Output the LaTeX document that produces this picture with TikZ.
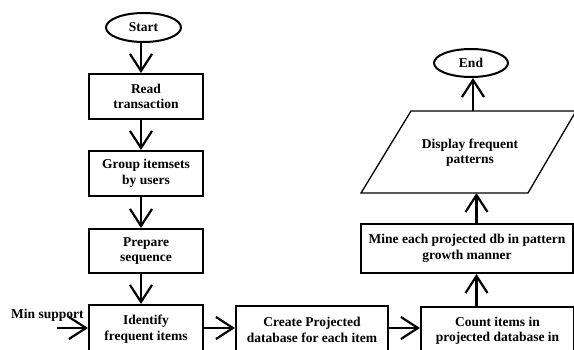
\documentclass[tikz,border=0pt]{standalone}
\usepackage{fontspec}
\setmainfont{Liberation Serif}
\usetikzlibrary{arrows.meta,shapes.geometric}
\tikzset{
  txt/.style={font=\bfseries\fontsize{13.5}{15.5}\selectfont, align=center, inner sep=0pt},
  procbox/.style={txt, draw, line width=2pt},
  term/.style={txt, draw, ellipse, line width=2pt, inner sep=0pt},
  flow/.style={line width=2.2pt, -{Straight Barb[length=17pt,width=22pt]}},
}
\begin{document}
\begin{tikzpicture}[x=1pt,y=-1pt]
\clip (0,0) rectangle (574,350);
\fill[white] (0,0) rectangle (574,350);
% left column
\node[term, minimum width=75pt, minimum height=29pt] (start) at (143.5,27.5) {Start};
\node[procbox, minimum width=114pt, minimum height=45pt] (read) at (146,96.5) {Read\\transaction};
\node[procbox, minimum width=114pt, minimum height=45pt] (group) at (146,173.5) {Group itemsets\\by users};
\node[procbox, minimum width=114pt, minimum height=44pt] (prep) at (146,251) {Prepare\\sequence};
\node[procbox, minimum width=114pt, minimum height=48pt] (ident) at (146,329) {Identify\\frequent items};
\node[txt, anchor=west] (mslabel) at (11,315) {Min support};
% bottom row
\node[procbox, minimum width=152pt, minimum height=48pt] (create) at (312,330) {Create Projected\\database for each item};
\node[procbox, minimum width=153pt, minimum height=48pt] (count) at (497.5,331) {Count items in\\projected database in};
% right column
\node[procbox, minimum width=212pt, minimum height=49pt] (mine) at (467,248.5) {Mine each projected db in pattern\\growth manner};
\draw[line width=1.3pt] (361,193) coordinate (pbl) -- (528,193) -- (576,111) -- (411,111) coordinate (ptl) -- cycle;
\node[txt] (disp) at (470,152.5) {Display frequent\\patterns};
\node[term, minimum width=74pt, minimum height=28pt] (end) at (471,63) {End};
% helper coordinates
\coordinate (ax) at (141,0);
\coordinate (ay) at (0,328);
\coordinate (ms) at (57,328);
\coordinate (bx) at (476.5,0);
\coordinate (cx) at (473,0);
% connectors
\draw[flow] (start.south -| ax) -- (read.north -| ax);
\draw[flow] (read.south -| ax) -- (group.north -| ax);
\draw[flow] (group.south -| ax) -- (prep.north -| ax);
\draw[flow] (prep.south -| ax) -- (ident.north -| ax);
\draw[flow] (ms) -- (ident.west |- ms);
\draw[flow] (ident.east |- ay) -- (create.west |- ay);
\draw[flow] (create.east |- ay) -- (count.west |- ay);
\draw[flow] (count.north -| bx) -- (mine.south -| bx);
\draw[flow] (mine.north -| bx) -- (pbl -| bx);
\draw[flow] (ptl -| cx) -- (end.south -| cx);
\end{tikzpicture}
\end{document}
